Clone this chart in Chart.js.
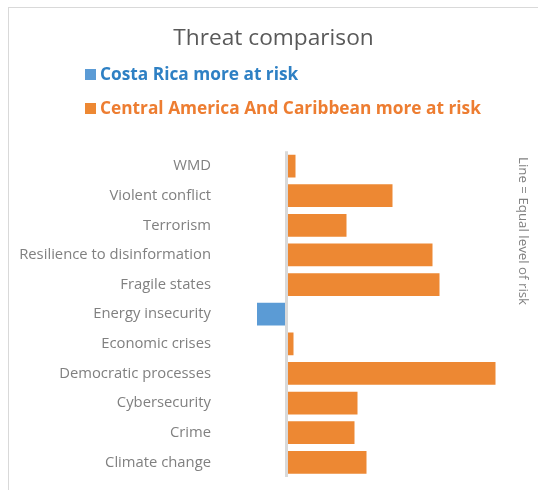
<!DOCTYPE html>
<html>
<head>
<meta charset="utf-8">
<script src="https://cdn.jsdelivr.net/npm/chart.js@4"></script>
<style>
html,body{margin:0;padding:0;background:#fff;width:538px;height:490px;overflow:hidden;}
#frame{position:absolute;left:8px;top:7px;width:540px;height:500px;border:1px solid #d9d9d9;box-sizing:border-box;}
#wrap{position:absolute;left:9px;top:8px;width:529px;height:482px;}
</style>
</head>
<body>
<div id="frame"></div>
<div id="wrap"><canvas id="c"></canvas></div>
<script>
const categories = ["WMD","Violent conflict","Terrorism","Resilience to disinformation","Fragile states","Energy insecurity","Economic crises","Democratic processes","Cybersecurity","Crime","Climate change"];
const costaRicaMore = [null,null,null,null,null,-2.95,null,null,null,null,null];
const regionMore = [0.9,10.6,6.0,14.6,15.3,null,0.7,20.9,7.1,6.8,8.0];
const seriesNames = ["Costa Rica more at risk","Central America And Caribbean more at risk"];
const seriesColors = ["#5B9BD5","#ED8833"];
const legendTextColors = ["#2E80C4","#ED7D31"];
const titleText = "Threat comparison";
const noteText = "Line = Equal level of risk";

const FONT = "'Open Sans', sans-serif";

const customLegend = {
  id: 'customLegend',
  afterDraw(chart) {
    const ctx = chart.ctx;
    ctx.save();
    ctx.font = "bold 17.3px " + FONT;
    ctx.textBaseline = 'middle';
    const ys = [66, 100];
    for (let i = 0; i < 2; i++) {
      ctx.fillStyle = seriesColors[i];
      ctx.fillRect(76, ys[i] - 5, 11, 11);
      ctx.fillStyle = legendTextColors[i];
      ctx.textAlign = 'left';
      ctx.fillText(seriesNames[i], 91, ys[i] + 1);
    }
    // side note
    ctx.translate(514, 149);
    ctx.rotate(Math.PI / 2);
    ctx.font = "13.3px " + FONT;
    ctx.fillStyle = "#808080";
    ctx.textAlign = 'left';
    ctx.fillText(noteText, 0, 0);
    ctx.restore();
  }
};

new Chart(document.getElementById('c'), {
  type: 'bar',
  data: {
    labels: categories,
    datasets: [
      { label: seriesNames[0], data: costaRicaMore, backgroundColor: seriesColors[0], barPercentage: 0.77, categoryPercentage: 1.0 },
      { label: seriesNames[1], data: regionMore, backgroundColor: seriesColors[1], barPercentage: 0.77, categoryPercentage: 1.0 }
    ]
  },
  options: {
    indexAxis: 'y',
    responsive: true,
    maintainAspectRatio: false,
    animation: false,
    layout: { padding: { top: 0, bottom: 10, left: 0, right: 0 } },
    plugins: {
      legend: { display: false },
      tooltip: { enabled: false },
      title: {
        display: true,
        text: titleText,
        color: "#595959",
        font: { family: FONT, size: 22.7, weight: 'normal' },
        padding: { top: 17, bottom: 99 }
      }
    },
    scales: {
      x: {
        stacked: true,
        min: -7.15,
        max: 25.15,
        ticks: { display: false, stepSize: 1 },
        border: { display: false },
        grid: {
          drawTicks: false,
          color: (c) => (c.tick && c.tick.value === 0) ? "#d9d9d9" : "rgba(0,0,0,0)",
          lineWidth: (c) => (c.tick && c.tick.value === 0) ? 3 : 0
        }
      },
      y: {
        stacked: true,
        border: { display: false },
        grid: { display: false, drawTicks: false },
        ticks: { color: "#808080", font: { family: FONT, size: 14.8 }, padding: 4 },
        afterFit: (s) => { s.width = 206; }
      }
    }
  },
  plugins: [customLegend]
});
</script>
</body>
</html>
